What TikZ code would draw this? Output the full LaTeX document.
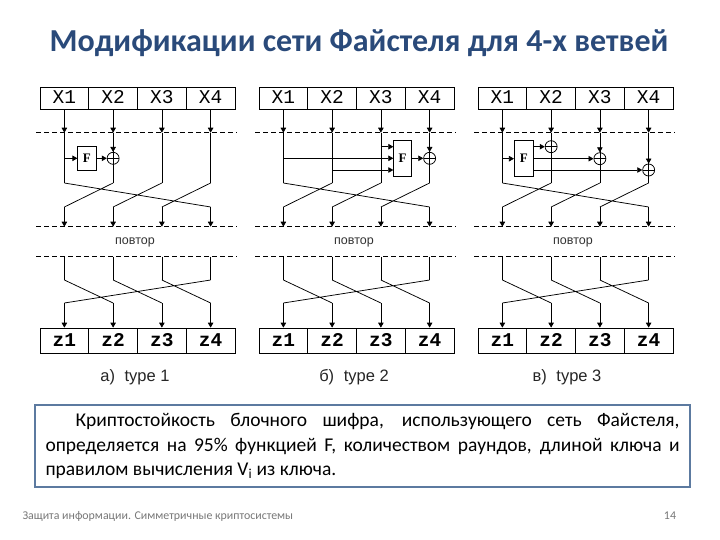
\documentclass[tikz,border=0pt]{standalone}
\usepackage{fontspec}
\setmainfont{Carlito}
\newfontfamily\monofont{Liberation Mono}
\newfontfamily\arialfont{Liberation Sans}
\newfontfamily\serifont{Liberation Serif}
\usetikzlibrary{arrows.meta,calc}
\definecolor{titleblue}{RGB}{42,74,122}
\definecolor{boxblue}{RGB}{92,122,160}
\definecolor{footgray}{RGB}{120,120,120}

\tikzset{
  wire/.style={line width=0.75pt},
  arr/.style={wire,-{Triangle[length=5pt,width=5.5pt]}},
  dline/.style={line width=0.75pt,dash pattern=on 5pt off 3pt},
  topcell/.style={draw,line width=0.75pt,minimum width=48.75pt,minimum height=22pt,inner sep=0pt,text height=11.5pt,text depth=0pt,font=\monofont\fontsize{19.5}{19.5}\selectfont},
  botcell/.style={topcell,minimum height=25pt,font=\monofont\bfseries\fontsize{19.5}{19.5}\selectfont},
  fbox/.style={draw,line width=0.75pt,fill=white,inner sep=0pt,font=\serifont\bfseries\fontsize{13}{13}\selectfont},
  xor/.style={circle,draw,line width=0.75pt,minimum size=12pt,inner sep=0pt,
    path picture={\draw[line width=0.75pt] (path picture bounding box.west)--(path picture bounding box.east) (path picture bounding box.north)--(path picture bounding box.south);}},
  rep/.style={font=\arialfont\fontsize{12.5}{12.5}\selectfont,text=black!80},
  captxt/.style={font=\arialfont\fontsize{16.5}{16.5}\selectfont,text=black!85},
}

\newcommand\fframe[2]{%
  \foreach \k in {1,2,3,4}{%
    \pgfmathsetmacro\cx{#1+24.375+48.75*(\k-1)}%
    \node[topcell] (#2x\k) at (\cx,98) {X\k};
    \node[botcell] (#2z\k) at (\cx,340.5) {z\k};
    \coordinate (#2d\k) at (\cx,132.7);
    \coordinate (#2b\k) at (\cx,183);
    \coordinate (#2e\k) at (\cx,207);
    \coordinate (#2f\k) at (\cx,226.7);
    \coordinate (#2g\k) at (\cx,256.7);
    \coordinate (#2h\k) at (\cx,280);
    \coordinate (#2i\k) at (\cx,303);
  }
  \foreach \k in {1,2,3,4}{%
    \draw[arr] (#2x\k.south) -- (#2d\k);
    \draw[wire] (#2d\k) -- (#2b\k);
    \draw[arr] (#2e\k) -- (#2f\k);
    \draw[wire] (#2g\k) -- (#2h\k);
    \draw[arr] (#2i\k) -- (#2z\k.north);
  }
  \draw[wire] (#2b1)--(#2e4) (#2b2)--(#2e1) (#2b3)--(#2e2) (#2b4)--(#2e3);
  \draw[wire] (#2h1)--(#2i2) (#2h2)--(#2i3) (#2h3)--(#2i4) (#2h4)--(#2i1);
  \draw[dline] (#1-4,132.7) -- (#1+197,132.7);
  \draw[dline] (#1-4,226.7) -- (#1+197,226.7);
  \draw[dline] (#1-4,256.7) -- (#1+197,256.7);
  \node[rep] (#2rep) at (#1+95,242) {повтор};
}

\begin{document}
\begin{tikzpicture}[x=1pt,y=-1pt]
\useasboundingbox (0,0) rectangle (720,540);
\fill[white] (0,0) rectangle (720,540);

\node[font=\bfseries\fontsize{32}{32}\selectfont,text=titleblue] (title) at (359,43) {Модификации сети Файстеля для 4-х ветвей};

% diagram a
\fframe{40}{a}
\node[fbox,minimum width=18.3pt,minimum height=23.3pt] (aF) at (86.9,158.3) {F};
\node[xor] (aX) at (ad2 |- aF) {};
\draw[arr] (aF.west -| ad1) -- (aF.west);
\draw[arr] (aF.east) -- (aX.west);
\draw[arr] (ad2) -- (aX.north);
\node[captxt] (acap) at (135,377) {а)\hspace{5pt} type 1};

% diagram b
\fframe{259}{b}
\node[fbox,minimum width=18.4pt,minimum height=36.7pt] (bF) at (402.5,158.3) {F};
\coordinate (bi1) at (393.3,146.7);
\coordinate (bi2) at (393.3,158.3);
\coordinate (bi3) at (393.3,170);
\draw[arr] (bi1 -| bd3) -- (bi1);
\draw[arr] (bi2 -| bd1) -- (bi2);
\draw[arr] (bi3 -| bd2) -- (bi3);
\node[xor] (bX) at (bd4 |- bF) {};
\draw[arr] (bF.east) -- (bX.west);
\draw[arr] (bd4) -- (bX.north);
\node[captxt] (bcap) at (354,377) {б)\hspace{5pt} type 2};

% diagram c
\fframe{478}{c}
\node[fbox,minimum width=19pt,minimum height=36pt] (cF) at (523.8,158.7) {F};
\draw[arr] (cF.west -| cd1) -- (cF.west);
\coordinate (co1) at (533.3,146.7);
\coordinate (co2) at (533.3,158.7);
\coordinate (co3) at (533.3,170);
\node[xor] (cX2) at (co1 -| cd2) {};
\node[xor] (cX3) at (co2 -| cd3) {};
\node[xor] (cX4) at (co3 -| cd4) {};
\draw[arr] (co1) -- (cX2.west);
\draw[arr] (co2) -- (cX3.west);
\draw[arr] (co3) -- (cX4.west);
\draw[arr] (cd3) -- (cX3.north);
\draw[arr] (cd4) -- (cX4.north);
\node[captxt] (ccap) at (567,377) {в)\hspace{5pt} type 3};

% text box
\node[draw=boxblue,line width=1.5pt,minimum width=655pt,minimum height=82pt,
  text width=634pt,inner xsep=10.5pt,inner ysep=0pt,align=justify,
  font=\fontsize{19.5}{24.5}\selectfont] (tb) at (362.5,446)
  {\hspace*{30pt}Криптостойкость блочного шифра, использующего сеть Файстеля,\linebreak определяется на 95\% функцией F, количеством раундов, длиной ключа и\linebreak правилом вычисления V\textsubscript{i} из ключа.};

\node[anchor=west,font=\fontsize{11.9}{13}\selectfont,text=footgray] (foot) at (19,516) {Защита информации. Симметричные криптосистемы};
\node[font=\fontsize{11.9}{13}\selectfont,text=footgray] (page) at (670,516) {14};
\end{tikzpicture}
\end{document}
